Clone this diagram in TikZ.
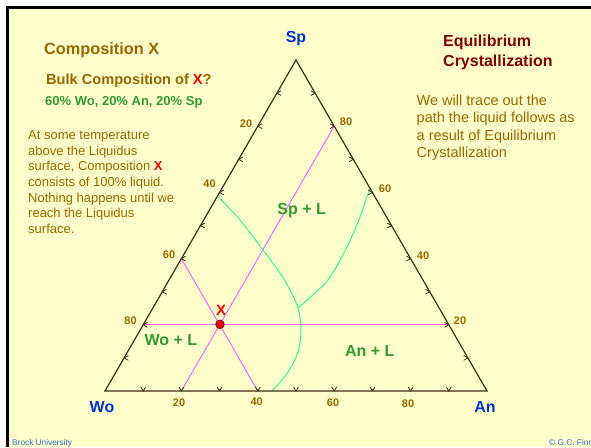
\documentclass[tikz,border=0pt]{standalone}
\usepackage{fontspec}
\setmainfont{Liberation Sans}
\usetikzlibrary{calc}
\definecolor{bgyellow}{RGB}{255,255,204}
\definecolor{txtbrown}{RGB}{153,102,0}
\definecolor{titlered}{RGB}{128,0,0}
\definecolor{vblue}{RGB}{0,51,204}
\definecolor{lblgreen}{RGB}{51,153,51}
\definecolor{cotectic}{RGB}{51,255,153}
\definecolor{pinkline}{RGB}{255,102,255}
\definecolor{axiscol}{RGB}{64,44,24}
\definecolor{footblue}{RGB}{51,102,204}
\definecolor{dotred}{RGB}{230,0,0}
\begin{document}
\begin{tikzpicture}[x=1pt,y=-1pt,
  axisline/.style={draw=axiscol,line width=1.2pt,line join=miter},
  tickmark/.style={draw=axiscol,line width=0.8pt},
  gridline/.style={draw=pinkline,line width=1pt},
  cotline/.style={draw=cotectic,line width=1pt},
  numlbl/.style={inner sep=0,anchor=base,font=\fontsize{11}{13}\selectfont\bfseries,text=txtbrown},
  vertlbl/.style={inner sep=0,anchor=base,font=\fontsize{16}{19}\selectfont\bfseries,text=vblue},
  regionlbl/.style={inner sep=0,anchor=base,font=\fontsize{16}{19}\selectfont\bfseries,text=lblgreen},
  paraL/.style={inner sep=0,anchor=base west,font=\fontsize{13}{15}\selectfont,text=txtbrown},
  paraR/.style={inner sep=0,anchor=base west,font=\fontsize{14.5}{17}\selectfont,text=txtbrown},
  titleR/.style={inner sep=0,anchor=base west,font=\fontsize{16}{19}\selectfont\bfseries,text=titlered},
  footlbl/.style={inner sep=0,anchor=base west,font=\fontsize{8.3}{10}\selectfont,text=footblue}]
\useasboundingbox (0,0) rectangle (591,447);
\fill[white] (0,0) rectangle (591,447);
\fill[bgyellow] (7.5,7.5) rectangle (591,447);
\draw[black,line width=2.5pt] (7.3,447) -- (7.3,7.3) -- (591,7.3);

% vertices
\coordinate (Wo) at (105,391);
\coordinate (An) at (487,391);
\coordinate (Sp) at (296,60);

% grid lines through X
\coordinate (g1) at ($(Wo)!0.2!(Sp)$);
\coordinate (g2) at ($(An)!0.2!(Sp)$);
\coordinate (g3) at ($(Wo)!0.2!(An)$);
\coordinate (g4) at ($(An)!0.8!(Sp)$);
\coordinate (g5) at ($(Wo)!0.4!(Sp)$);
\coordinate (g6) at ($(Wo)!0.4!(An)$);
\draw[gridline] (g1) -- (g2);
\draw[gridline] (g3) -- (g4);
\draw[gridline] (g5) -- (g6);

% cotectic curves
\draw[cotline] plot[smooth,tension=0.6] coordinates {(217.5,196) (240,220) (263,250) (280,273) (290,290) (298,308) (301,330) (298,352) (288,372) (272,391)};
\draw[cotline] plot[smooth,tension=0.6] coordinates {(298,308) (316,292) (330,277) (347,247) (360,217) (367.5,195) (370,188)};

% triangle
\draw[axisline] (Wo) -- (An) -- (Sp) -- cycle;

% ticks
\foreach \i in {1,...,9}{
  \pgfmathsetmacro\f{\i/10}
  \draw[tickmark] ($(Wo)!\f!(An)$) ++(-2.4,-4) -- ++(2.4,4) -- ++(2.4,-4);
  \draw[tickmark] ($(Wo)!\f!(Sp)$) ++(4.2,-2.4) -- ++(-4.2,2.4) -- ++(4.2,2.4);
  \draw[tickmark] ($(An)!\f!(Sp)$) ++(-4.2,-2.4) -- ++(4.2,2.4) -- ++(-4.2,2.4);
}

% axis numbers
\node[numlbl] (l20) at (246,127) {20};
\node[numlbl] (l40) at (209.5,187) {40};
\node[numlbl] (l60) at (169,258) {60};
\node[numlbl] (l80) at (130.5,324) {80};
\node[numlbl] (r80) at (346,125) {80};
\node[numlbl] (r60) at (385,192.5) {60};
\node[numlbl] (r40) at (423,259) {40};
\node[numlbl] (r20) at (460,324) {20};
\node[numlbl] (b20) at (179,406) {20};
\node[numlbl] (b40) at (256.7,405) {40};
\node[numlbl] (b60) at (333,406) {60};
\node[numlbl] (b80) at (408,407) {80};

% vertex labels
\node[vertlbl] (tSp) at (296,42.7) {Sp};
\node[vertlbl] (tWo) at (102,412.5) {Wo};
\node[vertlbl] (tAn) at (485,412) {An};

% region labels
\node[regionlbl] (rSp) at (301.7,214.5) {Sp + L};
\node[regionlbl] (rWo) at (170.8,345) {Wo + L};
\node[regionlbl] (rAn) at (369.7,356.5) {An + L};

% composition X
\node[inner sep=0,anchor=base,font=\fontsize{15}{18}\selectfont\bfseries,text=red] (xl) at (221,315) {X};
\node[circle,fill=dotred,draw=titlered,line width=0.8pt,minimum size=8.5pt,inner sep=0] (xdot) at (220,324.3) {};

% left texts
\node[inner sep=0,anchor=base west,font=\fontsize{16.3}{19}\selectfont\bfseries,text=txtbrown] (t1) at (44,54.3) {Composition X};
\node[inner sep=0,anchor=base west,font=\fontsize{14.6}{17}\selectfont\bfseries,text=txtbrown] (t2) at (46,84.3) {Bulk Composition of \textcolor{red}{X}?};
\node[inner sep=0,anchor=base west,font=\fontsize{13}{15}\selectfont\bfseries,text=lblgreen] (t3) at (45,105) {60\% Wo, 20\% An, 20\% Sp};

\node[paraL] (p1) at (28,139.3) {At some temperature};
\node[paraL] (p2) at (28,155) {above the Liquidus};
\node[paraL] (p3) at (28,170.7) {surface, Composition \textcolor{red}{\bfseries X}};
\node[paraL] (p4) at (28,186.4) {consists of 100\% liquid.};
\node[paraL] (p5) at (28,202.1) {Nothing happens until we};
\node[paraL] (p6) at (28,217.8) {reach the Liquidus};
\node[paraL] (p7) at (28,233.5) {surface.};

% right texts
\node[titleR] (e1) at (443,46.7) {Equilibrium};
\node[titleR] (e2) at (443,66.2) {Crystallization};
\node[paraR] (q1) at (416.5,105) {We will trace out the};
\node[paraR] (q2) at (416.5,122.6) {path the liquid follows as};
\node[paraR] (q3) at (416.5,140.2) {a result of Equilibrium};
\node[paraR] (q4) at (416.5,157.8) {Crystallization};

% footer
\node[footlbl] (f1) at (12,445.5) {Brock University};
\node[footlbl] (f2) at (549,445.5) {© G.C. Finn};
\end{tikzpicture}
\end{document}
